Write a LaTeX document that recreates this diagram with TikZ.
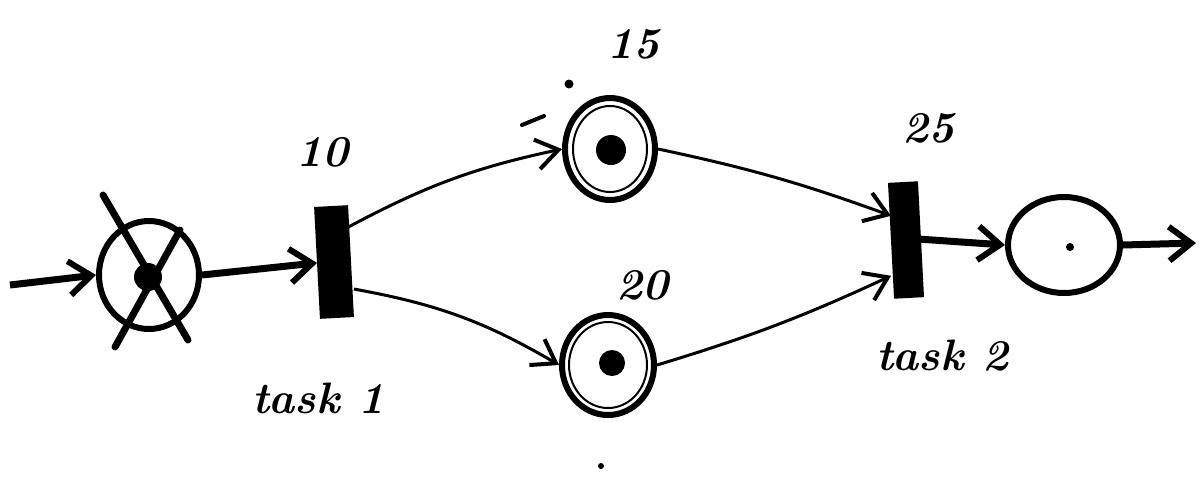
\documentclass[tikz,border=0pt]{standalone}
\usetikzlibrary{arrows.meta,shapes.geometric}
\begin{document}
\begin{tikzpicture}[x=1pt,y=-1pt,
  place/.style={draw,ellipse,line width=6pt,inner sep=0pt},
  trans/.style={draw,fill=black,rectangle,line width=2pt,inner sep=0pt},
  token/.style={fill=black,circle,inner sep=0pt},
  bigarc/.style={line width=7pt,-{Straight Barb[length=22pt,width=34pt,line width=6pt]}},
  thinarc/.style={line width=3pt,-{Straight Barb[length=22pt,width=30pt,line width=4pt]}},
  lbl/.style={font=\fontsize{44}{48}\selectfont\bfseries\itshape,inner sep=0pt}]
\useasboundingbox (0,0) rectangle (1204,477);
% places
\node[place,minimum width=100pt,minimum height=108pt] (p0) at (149,275) {};
\node[place,minimum width=90pt,minimum height=102pt] (p1) at (610,149) {};
\node[place,minimum width=92pt,minimum height=100pt] (p2) at (608,365) {};
\node[place,minimum width=112pt,minimum height=96pt] (p3) at (1064,245) {};
% inner rings
\draw[line width=2pt] (p1.center) ellipse (37pt and 43pt);
\draw[line width=2pt] (p2.center) ellipse (39pt and 43pt);
% tokens
\node[token,minimum size=28pt] (k0) at (148,277) {};
\node[token,minimum size=30pt] (k1) at (611,150) {};
\node[token,minimum size=26pt] (k2) at (612,363) {};
\node[token,minimum size=8pt] (k3) at (1070,247) {};
% cross over p0
\coordinate (x1) at (103,195);
\coordinate (x2) at (188,340);
\coordinate (x3) at (180,230);
\coordinate (x4) at (115,347);
\draw[line width=7pt,line cap=round] (x1) -- (x2);
\draw[line width=7pt,line cap=round] (x3) -- (x4);
% transitions
\node[trans,minimum width=32pt,minimum height=110pt,rotate=3] (t1) at (334,262) {};
\node[trans,minimum width=28pt,minimum height=114pt,rotate=3] (t2) at (906,240) {};
% free ends
\coordinate (in) at (10,285);
\coordinate (out) at (1196,243);
% arcs
\draw[bigarc] (in) -- (p0.west);
\draw[bigarc] (p0.east) -- (t1.west);
\draw[thinarc] ([yshift=-22pt]t1.north east) to[bend left=8] (p1.west);
\draw[thinarc] ([yshift=28pt]t1.south east) to[bend left=10] (p2.west);
\draw[thinarc] (p1.east) to[bend left=4] ([yshift=25pt]t2.west);
\draw[thinarc] (p2.east) to[bend right=4] ([yshift=-35pt]t2.west);
\draw[bigarc] (t2.east) -- (p3.west);
\draw[bigarc] (p3.east) -- (out);
% labels
\node[lbl] (l10) at (322,152) {10};
\node[lbl] (l15) at (633,44) {15};
\node[lbl] (l20) at (642,285) {20};
\node[lbl] (l25) at (928,128) {25};
\node[lbl] (lt1) at (318,398) {task 1};
\node[lbl] (lt2) at (942,356) {task 2};
% stray marks
\node[token,minimum size=9pt] (d1) at (569,84) {};
\draw[line width=4pt,line cap=round] (522,125) -- (544,116);
\node[token,minimum size=6pt] (d2) at (601,466) {};
\end{tikzpicture}
\end{document}
